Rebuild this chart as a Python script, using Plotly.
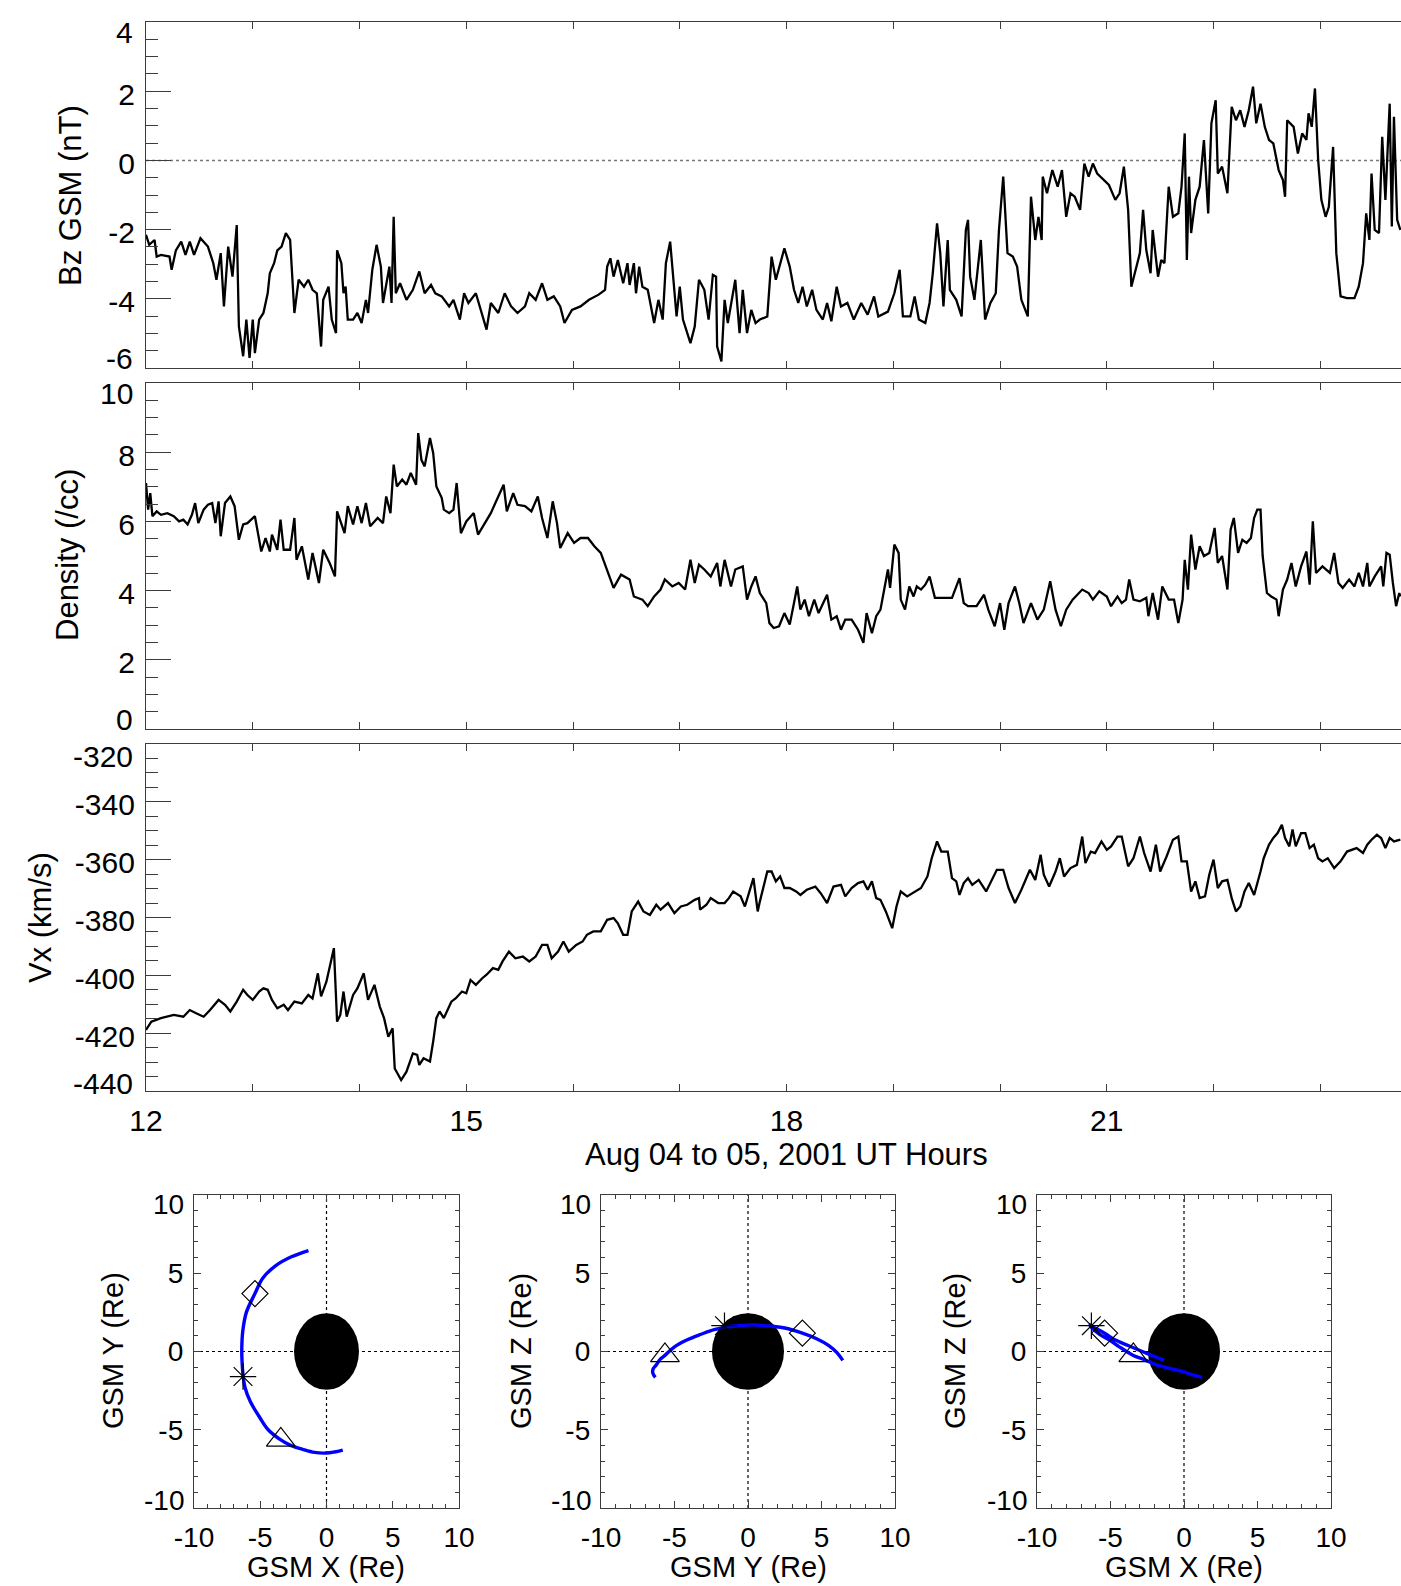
import plotly.graph_objects as go

W, H = 1401, 1586

# ---------------- time series data (hour UT, value) ----------------
bz_samples = [
    (12.00,-2.15),(12.03,-2.44),(12.08,-2.30),(12.10,-2.78),(12.14,-2.73),(12.22,-2.78),(12.24,-3.16),(12.28,-2.60),
    (12.33,-2.35),(12.37,-2.73),(12.41,-2.35),(12.45,-2.73),(12.51,-2.25),(12.58,-2.49),(12.63,-2.97),(12.66,-3.45),
    (12.70,-2.68),(12.73,-4.22),(12.77,-2.49),(12.81,-3.36),(12.85,-1.87),(12.87,-4.80),(12.91,-5.66),(12.94,-4.60),
    (12.97,-5.71),(13.00,-4.60),(13.02,-5.57),(13.06,-4.60),(13.10,-4.41),(13.14,-3.84),(13.16,-3.26),(13.20,-2.97),
    (13.23,-2.60),(13.27,-2.49),(13.31,-2.10),(13.35,-2.30),(13.39,-4.41),(13.43,-3.45),(13.48,-3.65),(13.52,-3.45),
    (13.56,-3.74),(13.60,-3.84),(13.64,-5.38),(13.66,-4.03),(13.71,-3.65),(13.74,-4.60),(13.78,-4.99),(13.79,-2.60),
    (13.83,-2.97),(13.85,-3.84),(13.87,-3.65),(13.89,-4.60),(13.94,-4.60),(13.98,-4.41),(14.02,-4.70),(14.06,-4.03),
    (14.08,-4.41),(14.12,-3.16),(14.16,-2.44),(14.20,-3.07),(14.22,-4.12),(14.25,-3.65),(14.28,-3.07),(14.30,-4.12),
    (14.32,-1.63),(14.34,-3.84),(14.38,-3.55),(14.44,-4.03),(14.50,-3.74),(14.56,-3.21),(14.61,-3.84),(14.67,-3.60),
    (14.71,-3.84),(14.77,-3.93),(14.84,-4.22),(14.88,-4.03),(14.94,-4.60),(14.98,-3.84),(15.02,-4.12),(15.09,-3.84),
    (15.15,-4.51),(15.19,-4.89),(15.23,-4.12),(15.30,-4.41),(15.36,-3.84),(15.42,-4.22),(15.48,-4.41),(15.55,-4.22),
    (15.59,-3.84),(15.65,-4.03),(15.71,-3.55),(15.76,-4.03),(15.82,-3.93),(15.88,-4.22),(15.92,-4.70),(15.99,-4.32),
    (16.07,-4.22),(16.15,-4.03),(16.24,-3.88),(16.30,-3.74),(16.32,-3.07),(16.35,-2.83),(16.38,-3.36),(16.42,-2.88),
    (16.47,-3.55),(16.51,-2.97),(16.53,-3.60),(16.57,-2.97),(16.59,-3.84),(16.62,-3.07),(16.65,-3.65),(16.70,-3.74),
    (16.76,-4.70),(16.80,-4.03),(16.84,-4.60),(16.87,-2.97),(16.91,-2.35),(16.94,-3.45),(16.97,-4.51),(17.00,-3.65),
    (17.03,-4.60),(17.10,-5.28),(17.14,-4.80),(17.18,-3.45),(17.23,-3.74),(17.27,-4.60),(17.31,-3.31),(17.34,-3.36),
    (17.35,-5.38),(17.39,-5.81),(17.42,-4.03),(17.45,-4.70),(17.48,-4.17),(17.52,-3.45),(17.56,-4.99),(17.59,-3.74),
    (17.63,-4.99),(17.67,-4.32),(17.71,-4.70),(17.75,-4.60),(17.82,-4.51),(17.86,-2.78),(17.90,-3.45),(17.94,-2.97),
    (17.98,-2.54),(18.03,-3.07),(18.07,-3.74),(18.11,-4.12),(18.15,-3.65),(18.19,-4.22),(18.24,-3.74),(18.28,-4.32),
    (18.34,-4.60),(18.38,-4.12),(18.42,-4.65),(18.47,-3.65),(18.51,-4.22),(18.57,-4.12),(18.63,-4.60),(18.70,-4.12),
    (18.76,-4.46),(18.82,-3.93),(18.86,-4.51),(18.95,-4.37),(19.01,-3.84),(19.06,-3.16),(19.09,-4.51),(19.16,-4.51),
    (19.20,-3.93),(19.24,-4.60),(19.30,-4.70),(19.34,-4.12),(19.37,-3.26),(19.41,-1.82),(19.44,-2.68),(19.47,-4.22),
    (19.51,-2.30),(19.53,-3.74),(19.59,-4.03),(19.64,-4.51),(19.68,-2.01),(19.70,-1.72),(19.72,-3.36),(19.76,-4.03),
    (19.82,-2.30),(19.86,-4.60),(19.91,-4.12),(19.96,-3.84),(19.99,-2.01),(20.03,-0.47),(20.07,-2.68),(20.12,-2.78),
    (20.16,-3.07),(20.20,-4.03),(20.26,-4.51),(20.29,-1.05),(20.33,-2.30),(20.36,-1.63),(20.39,-2.30),(20.40,-0.47),
    (20.44,-0.95),(20.49,-0.28),(20.54,-0.76),(20.58,-0.28),(20.62,-1.63),(20.66,-0.95),(20.70,-1.05),(20.75,-1.43),
    (20.79,-0.09),(20.83,-0.47),(20.87,-0.09),(20.91,-0.38),(20.97,-0.57),(21.02,-0.71),(21.08,-1.14),(21.12,-0.95),
    (21.16,-0.18),(21.20,-1.43),(21.23,-3.65),(21.27,-3.16),(21.31,-2.68),(21.34,-1.43),(21.37,-2.59),(21.41,-3.26),
    (21.43,-2.01),(21.48,-3.36),(21.51,-2.88),(21.54,-2.97),(21.58,-0.76),(21.62,-1.63),(21.67,-1.53),(21.70,-0.76),
    (21.73,0.78),(21.75,-2.88),(21.77,-0.47),(21.79,-2.10),(21.83,-1.14),(21.87,-0.76),(21.91,0.59),(21.95,-1.53),
    (21.98,1.07),(22.02,1.74),(22.04,-0.38),(22.08,-0.18),(22.13,-0.95),(22.17,1.55),(22.21,1.16),(22.25,1.45),
    (22.29,0.97),(22.33,1.45),(22.37,2.13),(22.40,1.07),(22.44,1.64),(22.48,0.97),(22.52,0.59),(22.56,0.49),
    (22.61,-0.28),(22.65,-0.57),(22.67,-1.05),(22.69,1.16),(22.75,0.97),(22.79,0.20),(22.83,0.78),(22.87,0.59),
    (22.89,1.36),(22.92,0.97),(22.95,2.08),(22.98,0.01),(23.01,-1.14),(23.05,-1.63),(23.08,-1.34),(23.12,0.39),
    (23.15,-2.68),(23.19,-3.93),(23.25,-3.98),(23.32,-3.98),(23.36,-3.65),(23.40,-2.97),(23.43,-1.53),(23.46,-2.30),
    (23.48,-0.38),(23.51,-2.01),(23.55,-2.10),(23.58,0.68),(23.61,-1.14),(23.65,1.64),(23.67,-1.91),(23.69,1.26),
    (23.72,-1.72),(23.75,-2.01),
]

density_samples = [
    (12.00,7.11),(12.02,6.34),(12.04,6.82),(12.06,6.15),(12.10,6.29),(12.14,6.19),(12.20,6.24),(12.26,6.15),
    (12.31,6.00),(12.35,6.05),(12.39,5.91),(12.43,6.19),(12.46,6.53),(12.49,5.95),(12.54,6.34),(12.58,6.48),
    (12.62,6.53),(12.65,5.95),(12.68,6.58),(12.70,5.57),(12.74,6.53),(12.79,6.72),(12.83,6.44),(12.87,5.47),
    (12.91,5.91),(12.95,5.95),(13.02,6.15),(13.05,5.66),(13.08,5.13),(13.12,5.52),(13.16,5.13),(13.18,5.62),
    (13.23,5.18),(13.26,6.05),(13.29,5.18),(13.35,5.18),(13.39,6.10),(13.41,4.89),(13.46,5.28),(13.52,4.32),
    (13.56,5.09),(13.62,4.22),(13.66,5.18),(13.72,4.80),(13.77,4.41),(13.79,6.29),(13.83,5.95),(13.86,5.66),
    (13.89,6.44),(13.94,5.91),(13.98,6.44),(14.02,5.95),(14.06,6.53),(14.10,5.86),(14.17,6.10),(14.22,5.95),
    (14.25,6.72),(14.29,6.24),(14.32,7.64),(14.35,7.01),(14.40,7.21),(14.44,7.06),(14.48,7.40),(14.53,7.06),
    (14.55,8.55),(14.58,7.78),(14.61,7.59),(14.66,8.41),(14.69,7.98),(14.72,7.01),(14.77,6.68),(14.79,6.34),
    (14.84,6.24),(14.88,6.34),(14.91,7.11),(14.95,5.66),(15.00,6.00),(15.07,6.24),(15.11,5.62),(15.17,5.95),
    (15.23,6.24),(15.30,6.72),(15.35,7.06),(15.38,6.29),(15.44,6.82),(15.48,6.48),(15.55,6.44),(15.61,6.29),
    (15.67,6.72),(15.71,6.10),(15.76,5.52),(15.81,6.58),(15.85,5.95),(15.88,5.23),(15.95,5.66),(16.01,5.38),
    (16.07,5.52),(16.14,5.52),(16.20,5.28),(16.26,5.09),(16.32,4.61),(16.38,4.08),(16.45,4.46),(16.53,4.32),
    (16.57,3.83),(16.65,3.74),(16.70,3.55),(16.76,3.83),(16.82,4.03),(16.86,4.32),(16.93,4.12),(16.99,4.22),
    (17.05,4.03),(17.10,4.89),(17.14,4.22),(17.18,4.75),(17.23,4.61),(17.29,4.41),(17.35,4.80),(17.38,4.12),
    (17.42,4.89),(17.48,4.12),(17.52,4.61),(17.59,4.70),(17.63,3.74),(17.67,4.12),(17.71,4.41),(17.75,3.93),
    (17.81,3.64),(17.84,3.06),(17.88,2.92),(17.93,2.97),(17.98,3.35),(18.03,3.02),(18.07,3.64),(18.10,4.12),
    (18.13,3.45),(18.17,3.74),(18.21,3.26),(18.26,3.74),(18.30,3.35),(18.38,3.88),(18.42,3.16),(18.47,3.26),
    (18.51,2.87),(18.55,3.16),(18.61,3.16),(18.67,2.87),(18.72,2.49),(18.75,3.35),(18.80,2.77),(18.84,3.26),
    (18.88,3.45),(18.93,4.22),(18.95,4.61),(18.97,4.08),(19.01,5.33),(19.05,5.09),(19.07,3.74),(19.11,3.45),
    (19.15,4.12),(19.19,3.83),(19.22,4.12),(19.26,4.03),(19.30,4.17),(19.34,4.41),(19.39,3.79),(19.47,3.79),
    (19.55,3.79),(19.62,4.36),(19.66,3.64),(19.70,3.55),(19.78,3.55),(19.85,3.88),(19.89,3.45),(19.95,2.97),
    (20.00,3.64),(20.04,2.87),(20.08,3.64),(20.14,4.12),(20.18,3.64),(20.22,3.06),(20.29,3.64),(20.35,3.16),
    (20.41,3.45),(20.47,4.27),(20.52,3.45),(20.57,2.97),(20.62,3.45),(20.68,3.74),(20.77,4.03),(20.83,3.93),
    (20.87,3.74),(20.93,3.98),(21.00,3.83),(21.04,3.55),(21.10,3.83),(21.14,3.64),(21.18,3.74),(21.21,4.32),
    (21.25,3.74),(21.31,3.69),(21.37,3.79),(21.39,3.26),(21.43,3.93),(21.48,3.16),(21.52,4.12),(21.58,3.74),
    (21.63,3.74),(21.67,3.06),(21.71,3.74),(21.73,4.89),(21.76,4.03),(21.79,5.62),(21.83,4.61),(21.87,5.28),
    (21.91,5.00),(21.96,5.09),(22.01,5.81),(22.04,4.80),(22.08,5.00),(22.13,4.03),(22.16,5.76),(22.19,6.10),
    (22.23,5.09),(22.27,5.47),(22.31,5.38),(22.35,5.52),(22.38,6.10),(22.41,6.34),(22.44,6.34),(22.46,5.00),
    (22.50,3.93),(22.54,3.83),(22.59,3.74),(22.61,3.26),(22.65,4.03),(22.69,4.32),(22.73,4.80),(22.77,4.12),
    (22.82,4.70),(22.87,5.13),(22.90,4.17),(22.93,6.00),(22.96,4.51),(23.02,4.70),(23.09,4.51),(23.13,5.09),
    (23.17,4.22),(23.21,4.08),(23.27,4.32),(23.32,4.12),(23.36,4.51),(23.40,4.12),(23.44,4.80),(23.46,4.12),
    (23.51,4.41),(23.57,4.70),(23.59,4.12),(23.62,5.09),(23.65,5.04),(23.68,4.22),(23.71,3.55),(23.74,3.93),
    (23.75,3.83),
]

vx_samples = [
    (12.00,-418.9),(12.05,-416.0),(12.14,-414.8),(12.20,-414.3),(12.26,-413.7),(12.35,-414.3),(12.41,-412.0),
    (12.47,-413.1),(12.54,-414.3),(12.60,-412.0),(12.68,-408.5),(12.74,-410.2),(12.79,-412.5),(12.85,-409.1),
    (12.91,-405.0),(12.95,-406.8),(13.00,-408.5),(13.06,-405.6),(13.10,-404.5),(13.14,-405.0),(13.18,-408.5),
    (13.23,-411.4),(13.29,-410.2),(13.33,-412.0),(13.39,-409.1),(13.46,-409.7),(13.52,-406.8),(13.56,-408.0),
    (13.61,-399.3),(13.64,-407.3),(13.69,-402.2),(13.76,-390.6),(13.79,-416.0),(13.82,-413.7),(13.85,-405.6),
    (13.88,-414.3),(13.94,-406.8),(13.98,-404.5),(14.04,-399.3),(14.08,-408.5),(14.14,-403.3),(14.19,-410.8),
    (14.23,-414.8),(14.27,-421.2),(14.31,-418.3),(14.33,-432.2),(14.39,-436.2),(14.44,-433.3),(14.50,-427.0),
    (14.54,-427.5),(14.56,-431.0),(14.60,-428.7),(14.66,-429.8),(14.69,-422.9),(14.72,-414.8),(14.75,-412.5),
    (14.79,-414.8),(14.86,-409.1),(14.90,-408.0),(14.96,-405.6),(15.00,-406.2),(15.04,-401.6),(15.09,-403.3),
    (15.15,-401.0),(15.19,-399.8),(15.25,-397.5),(15.30,-398.1),(15.34,-395.2),(15.40,-391.8),(15.46,-394.1),
    (15.53,-393.5),(15.59,-395.2),(15.65,-393.5),(15.71,-389.5),(15.76,-389.5),(15.80,-394.1),(15.86,-391.8),
    (15.91,-388.3),(15.96,-391.8),(16.03,-389.5),(16.09,-388.3),(16.13,-386.0),(16.19,-384.8),(16.26,-384.8),
    (16.32,-380.8),(16.38,-380.2),(16.42,-382.0),(16.47,-386.0),(16.51,-386.0),(16.55,-377.9),(16.61,-374.5),
    (16.66,-377.9),(16.72,-379.1),(16.78,-375.6),(16.82,-377.3),(16.89,-375.0),(16.95,-378.5),(17.01,-376.2),
    (17.07,-375.6),(17.14,-373.9),(17.18,-373.3),(17.19,-377.3),(17.25,-375.6),(17.29,-373.3),(17.36,-375.0),
    (17.42,-375.0),(17.46,-373.3),(17.50,-371.0),(17.57,-372.7),(17.61,-376.2),(17.65,-371.0),(17.69,-366.4),
    (17.73,-377.9),(17.75,-374.5),(17.82,-364.1),(17.86,-364.1),(17.90,-367.5),(17.94,-365.8),(17.98,-369.8),
    (18.03,-369.8),(18.09,-371.0),(18.13,-372.2),(18.19,-370.4),(18.27,-369.3),(18.32,-371.6),(18.38,-375.0),
    (18.44,-369.3),(18.51,-368.7),(18.55,-372.7),(18.61,-369.8),(18.67,-368.1),(18.72,-367.5),(18.76,-370.4),
    (18.80,-367.5),(18.84,-373.3),(18.88,-373.9),(18.93,-377.9),(18.97,-381.4),(18.99,-383.7),(19.03,-376.2),
    (19.07,-371.0),(19.13,-372.7),(19.20,-371.0),(19.26,-369.8),(19.32,-365.8),(19.36,-359.5),(19.41,-353.7),
    (19.45,-357.2),(19.51,-357.2),(19.55,-366.4),(19.59,-367.5),(19.62,-372.2),(19.66,-368.1),(19.70,-366.4),
    (19.74,-368.7),(19.80,-367.0),(19.87,-371.0),(19.93,-366.4),(19.97,-363.5),(20.03,-363.5),(20.08,-369.8),
    (20.14,-375.0),(20.20,-370.4),(20.28,-363.5),(20.33,-367.0),(20.38,-358.3),(20.41,-365.2),(20.46,-369.3),
    (20.52,-364.1),(20.56,-359.5),(20.60,-365.8),(20.66,-362.9),(20.72,-361.8),(20.77,-352.0),(20.80,-361.2),
    (20.85,-357.2),(20.89,-357.7),(20.95,-353.7),(21.00,-356.6),(21.04,-355.4),(21.10,-352.0),(21.14,-352.0),
    (21.20,-362.3),(21.25,-359.5),(21.31,-352.0),(21.35,-357.7),(21.41,-364.1),(21.46,-354.8),(21.50,-364.1),
    (21.56,-358.9),(21.62,-353.1),(21.67,-352.0),(21.70,-360.6),(21.75,-360.6),(21.79,-371.0),(21.83,-367.5),
    (21.87,-373.3),(21.92,-372.7),(21.96,-365.2),(22.00,-360.0),(22.04,-369.8),(22.08,-367.5),(22.13,-367.0),
    (22.17,-373.3),(22.21,-377.9),(22.25,-376.2),(22.29,-371.0),(22.33,-368.1),(22.38,-372.2),(22.44,-364.1),
    (22.47,-359.5),(22.52,-354.8),(22.56,-352.5),(22.60,-350.8),(22.64,-347.9),(22.67,-352.5),(22.71,-355.4),
    (22.74,-349.6),(22.77,-355.4),(22.82,-350.8),(22.86,-350.8),(22.90,-356.0),(22.94,-354.8),(22.98,-359.5),
    (23.02,-360.6),(23.07,-359.5),(23.13,-362.9),(23.19,-360.6),(23.25,-357.2),(23.34,-356.0),(23.40,-357.7),
    (23.44,-354.8),(23.48,-353.1),(23.53,-351.4),(23.57,-352.5),(23.61,-356.0),(23.65,-352.5),(23.69,-353.7),
    (23.75,-353.1),
]

# ---------------- orbit (GSM, Re) ----------------
orbit_x = [1.23, 0.6, 0.0, -0.9, -1.8, -2.75, -3.45, -4.4, -5.05, -5.75, -6.15, -6.3, -6.38, -6.39, -6.32, -6.05, -5.4, -4.8, -3.8, -2.65, -1.36]
orbit_y = [-6.30, -6.42, -6.49, -6.45, -6.25, -5.98, -5.65, -5.0, -4.2, -3.2, -2.3, -1.5, -0.5, 0.3, 1.3, 2.5, 3.7, 4.7, 5.5, 6.05, 6.45]
orbit_z = [-1.65, -1.50, -1.30, -1.10, -0.87, -0.50, -0.25, 0.30, 0.72, 1.10, 1.40, 1.56, 1.66, 1.70, 1.64, 1.50, 1.17, 0.80, 0.38, -0.07, -0.57]

marker_symbols = ["triangle-up-open", "asterisk-open", "diamond-open"]
marker_sizes = [25, 22, 20]
marker_x = [-3.45, -6.3, -5.4]
marker_y = [-5.65, -1.6, 3.7]
marker_z = [-0.25, 1.65, 1.17]
earth_radius = 2.45

time_ticks = list(range(12, 24))
time_range = [12, 23.756]
bz_ticks = [-6, -4, -2, 0, 2, 4]
density_ticks = [0, 2, 4, 6, 8, 10]
vx_ticks = [-440, -420, -400, -380, -360, -340, -320]
orbit_ticks = [-10, -5, 0, 5, 10]

AX = "#3c3c3c"
FONT = "Liberation Sans, Arial, Helvetica, sans-serif"
TICK_SIZE = 30


def px_x(p):
    return p / W


def px_y(p):
    return 1 - p / H


def label(v):
    return str(v)  # plain hyphen-minus, like the reference


fig = go.Figure()

# ---------------- top time-series panels ----------------
series = [
    (bz_samples, "x", "y"),
    (density_samples, "x2", "y2"),
    (vx_samples, "x3", "y3"),
]
for samples, xa, ya in series:
    fig.add_trace(go.Scatter(
        x=[s[0] for s in samples], y=[s[1] for s in samples], mode="lines",
        line=dict(color="black", width=2.3), xaxis=xa, yaxis=ya, hoverinfo="skip",
    ))

top_domains_y = [(22, 368), (383, 729), (744, 1091)]
y_specs = [
    dict(ticks=bz_ticks, minor=0.5),
    dict(ticks=density_ticks, minor=0.5),
    dict(ticks=vx_ticks, minor=5),
]
# end labels are drawn shifted inward, as in the reference
end_label_y = [(32, 358), (393, 720), (756, 1083)]

layout = dict(
    width=W, height=H, margin=dict(l=0, r=0, t=0, b=0, autoexpand=False),
    paper_bgcolor="white", plot_bgcolor="white", showlegend=False,
    font=dict(family=FONT, color="black"),
)
annotations = []


def ann(text, x, y, size, angle=0, xanchor="center"):
    return dict(text=text, x=px_x(x), y=px_y(y), xref="paper", yref="paper",
                xanchor=xanchor, yanchor="middle", showarrow=False, textangle=angle,
                font=dict(size=size, family=FONT, color="black"))


for i, ((top, bot), spec, (ly_top, ly_bot)) in enumerate(zip(top_domains_y, y_specs, end_label_y)):
    n = "" if i == 0 else str(i + 1)
    last = i == 2
    tv = spec["ticks"]
    layout["xaxis" + n] = dict(
        domain=[px_x(146), 1.0], range=time_range, anchor="y" + n, automargin=False,
        showline=True, linecolor=AX, linewidth=1.3, mirror="ticks",
        ticks="inside", ticklen=7, tickwidth=1.2, tickcolor=AX,
        tickvals=time_ticks,
        ticktext=[(str(h) if (h % 3 == 0 and last) else "") for h in time_ticks],
        showticklabels=last, tickfont=dict(size=TICK_SIZE, family=FONT, color="black"),
        ticklabelstandoff=3, showgrid=False, zeroline=False,
    )
    layout["yaxis" + n] = dict(
        domain=[px_y(bot), px_y(top)], range=[tv[0], tv[-1]], anchor="x" + n, automargin=False,
        showline=True, linecolor=AX, linewidth=1.3, mirror=False,
        ticks="inside", ticklen=25, tickwidth=1.2, tickcolor=AX,
        tickvals=tv, ticktext=[""] + [label(v) for v in tv[1:-1]] + [""],
        minor=dict(ticks="inside", ticklen=12, dtick=spec["minor"], tickcolor=AX, tickwidth=1.2),
        tickfont=dict(size=TICK_SIZE, family=FONT, color="black"),
        ticklabelstandoff=4, ticklabelshift=3,
        showgrid=False, zeroline=False,
    )
    annotations.append(ann(label(tv[-1]), 135, ly_top, TICK_SIZE, xanchor="right"))
    annotations.append(ann(label(tv[0]), 135, ly_bot, TICK_SIZE, xanchor="right"))

# ---------------- bottom orbit panels ----------------
bottom_x_domains = [(194, 459), (601, 895), (1037, 1331)]
orbit_views = [
    (orbit_x, orbit_y, marker_x, marker_y),
    (orbit_y, orbit_z, marker_y, marker_z),
    (orbit_x, orbit_z, marker_x, marker_z),
]
shapes = [dict(type="line", xref="x", yref="y", x0=time_range[0], x1=time_range[1], y0=0, y1=0,
               line=dict(color="#777777", width=1.5, dash="dot"), layer="below")]
for j, ((l, r), (hv, vv, mh, mv)) in enumerate(zip(bottom_x_domains, orbit_views)):
    n = str(j + 4)
    layout["xaxis" + n] = dict(
        domain=[px_x(l), px_x(r)], range=[-10, 10], anchor="y" + n, automargin=False,
        showline=True, linecolor=AX, linewidth=1.3, mirror="ticks",
        ticks="inside", ticklen=7, tickwidth=1.2, tickcolor=AX,
        tickvals=orbit_ticks, ticktext=[label(v) for v in orbit_ticks],
        minor=dict(ticks="inside", ticklen=4, dtick=1, tickcolor=AX, tickwidth=1.1),
        tickfont=dict(size=28, family=FONT, color="black"), ticklabelstandoff=4,
        showgrid=False, zeroline=False,
    )
    layout["yaxis" + n] = dict(
        domain=[px_y(1508), px_y(1195)], range=[-10, 10], anchor="x" + n, automargin=False,
        showline=True, linecolor=AX, linewidth=1.3, mirror="ticks",
        ticks="inside", ticklen=7, tickwidth=1.2, tickcolor=AX,
        tickvals=orbit_ticks, ticktext=[""] + [label(v) for v in orbit_ticks[1:-1]] + [""],
        minor=dict(ticks="inside", ticklen=4, dtick=1, tickcolor=AX, tickwidth=1.1),
        tickfont=dict(size=28, family=FONT, color="black"), ticklabelstandoff=4,
        showgrid=False, zeroline=False,
    )
    annotations.append(ann(label(orbit_ticks[-1]), l - 8, 1204, 28, xanchor="right"))
    annotations.append(ann(label(orbit_ticks[0]), l - 8, 1500, 28, xanchor="right"))
    xr, yr = "x" + n, "y" + n
    shapes.append(dict(type="line", xref=xr, yref=yr, x0=-10, x1=10, y0=0, y1=0,
                       line=dict(color="black", width=1.2, dash="dot"), layer="below"))
    shapes.append(dict(type="line", xref=xr, yref=yr, x0=0, x1=0, y0=-10, y1=10,
                       line=dict(color="black", width=1.2, dash="dot"), layer="below"))
    shapes.append(dict(type="circle", xref=xr, yref=yr,
                       x0=-earth_radius, x1=earth_radius, y0=-earth_radius, y1=earth_radius,
                       fillcolor="black", line=dict(width=0), layer="below"))
    fig.add_trace(go.Scatter(
        x=hv, y=vv, mode="lines", line=dict(color="#0000ff", width=3.4, shape="spline"),
        xaxis=xr, yaxis=yr, hoverinfo="skip",
    ))
    for k in range(len(marker_symbols)):
        fig.add_trace(go.Scatter(
            x=[mh[k]], y=[mv[k]], mode="markers",
            marker=dict(symbol=marker_symbols[k], size=marker_sizes[k], color="black",
                        line=dict(color="black", width=1.2)),
            xaxis=xr, yaxis=yr, hoverinfo="skip",
        ))

layout["shapes"] = shapes

annotations += [
    ann("Bz GSM (nT)", 70, 196, 31, -90),
    ann("Density (/cc)", 67, 555, 31, -90),
    ann("Vx (km/s)", 40, 918, 31, -90),
    ann("Aug 04 to 05, 2001 UT Hours", 787, 1154, 31),
    ann("GSM Y (Re)", 113, 1351, 29, -90),
    ann("GSM X (Re)", 326, 1567, 29),
    ann("GSM Z (Re)", 521, 1351, 29, -90),
    ann("GSM Y (Re)", 748, 1567, 29),
    ann("GSM Z (Re)", 955, 1351, 29, -90),
    ann("GSM X (Re)", 1184, 1567, 29),
]
layout["annotations"] = annotations

fig.update_layout(**layout)
fig.write_html("out.html")
